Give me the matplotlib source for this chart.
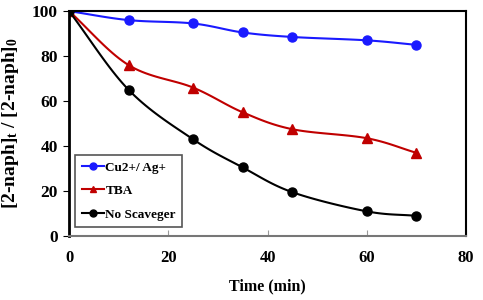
import numpy as np
import matplotlib
matplotlib.use('Agg')
import matplotlib.pyplot as plt

plt.rcParams['font.family'] = 'Liberation Serif'
plt.rcParams['font.weight'] = 'bold'
plt.rcParams['mathtext.fontset'] = 'custom'
plt.rcParams['mathtext.rm'] = 'Liberation Serif:bold'
plt.rcParams['mathtext.it'] = 'Liberation Serif:bold'

time = [0, 12, 25, 35, 45, 60, 70]
cu_ag = [100, 96, 94.5, 90.5, 88.5, 87, 85]
tba = [100, 76, 66, 55, 47.5, 43.5, 37]
no_scav = [100, 65, 43, 30.5, 19.5, 11, 9]


def smooth(x, y, n=20):
    # Catmull-Rom curve through the points (like Excel's smoothed line)
    x = np.asarray(x, float)
    y = np.asarray(y, float)
    px = np.concatenate([[2 * x[0] - x[1]], x, [2 * x[-1] - x[-2]]])
    py = np.concatenate([[2 * y[0] - y[1]], y, [2 * y[-1] - y[-2]]])
    xs, ys = [], []
    t = np.linspace(0, 1, n)
    for i in range(1, len(px) - 2):
        for p, out in ((px, xs), (py, ys)):
            p0, p1, p2, p3 = p[i - 1], p[i], p[i + 1], p[i + 2]
            out.extend(0.5 * ((2 * p1) + (-p0 + p2) * t
                              + (2 * p0 - 5 * p1 + 4 * p2 - p3) * t ** 2
                              + (-p0 + 3 * p1 - 3 * p2 + p3) * t ** 3))
    return xs, ys


fig = plt.figure(figsize=(4.83, 3.0), dpi=100)
ax = fig.add_axes([0.143, 0.213, 0.822, 0.75])

series = [
    (cu_ag, '#1a1aff', 'o', 'Cu2+/ Ag+'),
    (tba, '#c00000', '^', 'TBA'),
    (no_scav, 'black', 'o', 'No Scaveger'),
]
for vals, col, mk, lab in series:
    sx, sy = smooth(time, vals)
    ax.plot(sx, sy, color=col, lw=1.5)
    ax.plot(time, vals, ls='none', marker=mk, color=col, ms=6.5)
    ax.plot([], [], color=col, marker=mk, ms=5, lw=1.5, label=lab)

ax.set_xlim(0, 80)
ax.set_ylim(0, 100)
ax.set_xticks([0, 20, 40, 60, 80])
ax.set_yticks([0, 20, 40, 60, 80, 100])
ax.tick_params(axis='x', direction='in', length=4, color='#999999', labelsize=12, pad=10)
ax.tick_params(axis='y', direction='out', length=4, labelsize=12.5, pad=4)
for s in ax.spines.values():
    s.set_linewidth(1.5)
ax.spines['left'].set_linewidth(2)
ax.spines['bottom'].set_color('#777777')

ax.set_xlabel('Time (min)', fontsize=11.5, fontweight='bold', labelpad=9)
ax.set_ylabel(r'[2-naph]$_\mathrm{t}$ / [2-naph]$_\mathrm{0}$', fontsize=14,
              fontweight='bold', labelpad=8)

leg = ax.legend(loc='lower left', bbox_to_anchor=(0.015, 0.04), fontsize=9.5,
                handlelength=1.7, handletextpad=0.1, borderpad=0.5,
                borderaxespad=0, labelspacing=0.85, fancybox=False, framealpha=1)
leg.get_frame().set_edgecolor('#555555')
leg.get_frame().set_linewidth(1.2)

fig.savefig('out.png', dpi=100)
